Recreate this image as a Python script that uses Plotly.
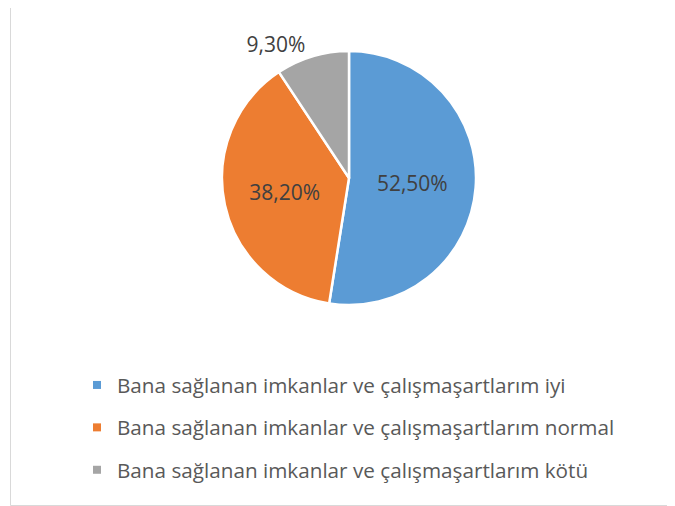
import plotly.graph_objects as go

categories = [
    "Bana sağlanan imkanlar ve çalışmaşartlarım iyi",
    "Bana sağlanan imkanlar ve çalışmaşartlarım normal",
    "Bana sağlanan imkanlar ve çalışmaşartlarım kötü",
]
values = [52.5, 38.2, 9.3]
colors = ["#5B9BD5", "#ED7D31", "#A5A5A5"]
label_text = [f"{v:.2f}".replace(".", ",") + "%" for v in values]

# page has an 8px body margin, so the figure is sized to fill the rest
W, H = 667, 498
FONT = "Open Sans"

fig = go.Figure()
fig.add_trace(go.Pie(
    labels=categories,
    values=values,
    text=label_text,
    textinfo="text",
    texttemplate="%{text}",
    textposition=["inside", "inside", "outside"],
    insidetextorientation="horizontal",
    sort=False,
    direction="clockwise",
    rotation=0,
    marker=dict(colors=colors, line=dict(color="white", width=2.5)),
    textfont=dict(family=FONT, size=21, color="#404040"),
    outsidetextfont=dict(family=FONT, size=21, color="#404040"),
    insidetextfont=dict(family=FONT, size=21, color="#404040"),
    domain=dict(x=[214 / W, 468 / W], y=[(H - 297) / H, (H - 43) / H]),
    showlegend=False,
    hoverinfo="label+percent",
))

for i, (cat, col) in enumerate(zip(categories, colors)):
    fig.add_trace(go.Scatter(
        x=[None], y=[None], mode="markers", name=cat,
        marker=dict(symbol="square", size=8, color=col),
        legendgroup=f"g{i}", showlegend=True,
    ))

fig.update_layout(
    width=W, height=H,
    margin=dict(l=0, r=0, t=0, b=0),
    paper_bgcolor="white", plot_bgcolor="white",
    xaxis=dict(visible=False), yaxis=dict(visible=False),
    legend=dict(
        x=69 / W, y=(H - 357) / H, xanchor="left", yanchor="top",
        font=dict(family=FONT, size=20.7, color="#595959"),
        tracegroupgap=12.5, bgcolor="rgba(0,0,0,0)",
    ),
    shapes=[dict(
        type="rect", xref="paper", yref="paper",
        x0=2.5 / W, x1=1.05, y0=0.5 / H, y1=1.05,
        line=dict(color="#D9D9D9", width=1), fillcolor="rgba(0,0,0,0)",
        layer="below",
    )],
)

fig.write_html("out.html")
